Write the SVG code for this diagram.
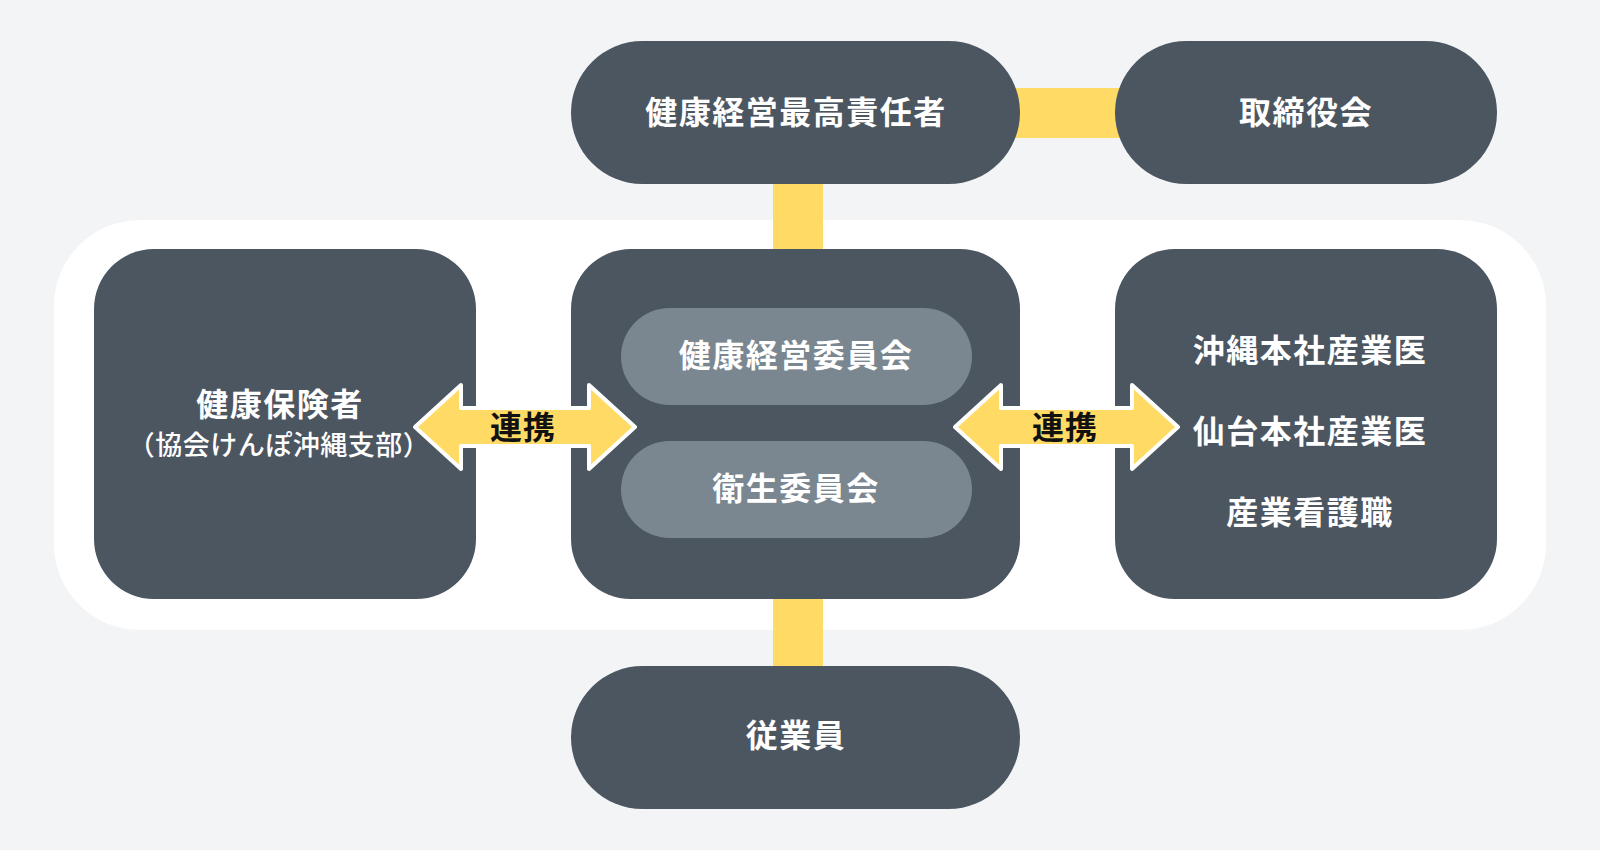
<svg xmlns="http://www.w3.org/2000/svg" width="1600" height="850" viewBox="0 0 1600 850">
  <style>
    .node { fill: #4c5661; }
    .pill { fill: #7a8690; }
    .conn { fill: #ffdb66; }
    .arrow { fill: #ffdb66; stroke: #ffffff; stroke-width: 4; stroke-linejoin: round; }
    .t { font-family: "Noto Sans CJK JP", "Noto Sans", sans-serif; font-weight: 700; fill: #ffffff; font-size: 32px; text-anchor: middle; dominant-baseline: central; letter-spacing: 1.5px; }
    .sub { font-size: 27px; font-weight: 500; letter-spacing: 0.5px; }
    .lbl { font-family: "Noto Sans CJK JP", "Noto Sans", sans-serif; font-weight: 700; fill: #111111; font-size: 32px; text-anchor: middle; dominant-baseline: central; letter-spacing: 1px; }
  </style>
  <rect width="1600" height="850" fill="#f3f4f6"/>
  <rect x="54" y="220" width="1492" height="410" rx="86" ry="86" fill="#ffffff"/>

  <g id="connectors">
    <rect class="conn" x="1010" y="88" width="115" height="50"/>
    <rect class="conn" x="773" y="175" width="50" height="85"/>
    <rect class="conn" x="773" y="590" width="50" height="85"/>
  </g>

  <g id="node-ceo">
    <rect class="node" x="571" y="41" width="449" height="143" rx="71.5" ry="71.5"/>
    <text class="t" x="796" y="110">健康経営最高責任者</text>
  </g>
  <g id="node-board">
    <rect class="node" x="1115" y="41" width="382" height="143" rx="71.5" ry="71.5"/>
    <text class="t" x="1306" y="110">取締役会</text>
  </g>
  <g id="node-insurer">
    <rect class="node" x="94" y="249" width="382" height="350" rx="60" ry="60"/>
    <text class="t" x="280" y="402">健康保険者</text>
    <text class="t sub" x="279" y="443">（協会けんぽ沖縄支部）</text>
  </g>
  <g id="node-committee">
    <rect class="node" x="571" y="249" width="449" height="350" rx="60" ry="60"/>
    <g id="node-health-committee">
      <rect class="pill" x="621" y="308" width="351" height="97" rx="48.5" ry="48.5"/>
      <text class="t" x="796" y="353">健康経営委員会</text>
    </g>
    <g id="node-hygiene-committee">
      <rect class="pill" x="621" y="441" width="351" height="97" rx="48.5" ry="48.5"/>
      <text class="t" x="796" y="486">衛生委員会</text>
    </g>
  </g>
  <g id="node-medical">
    <rect class="node" x="1115" y="249" width="382" height="350" rx="60" ry="60"/>
    <text class="t" x="1310" y="348">沖縄本社産業医</text>
    <text class="t" x="1310" y="429">仙台本社産業医</text>
    <text class="t" x="1310" y="510">産業看護職</text>
  </g>
  <g id="node-employees">
    <rect class="node" x="571" y="666" width="449" height="143" rx="71.5" ry="71.5"/>
    <text class="t" x="796" y="733">従業員</text>
  </g>

  <g id="link-left">
    <polygon class="arrow" points="415,427 461,385 461,408 589,408 589,385 635,427 589,469 589,446 461,446 461,469"/>
    <text class="lbl" x="523" y="425">連携</text>
  </g>
  <g id="link-right">
    <polygon class="arrow" points="955,427 1001,385 1001,408 1132,408 1132,385 1178,427 1132,469 1132,446 1001,446 1001,469"/>
    <text class="lbl" x="1065" y="425">連携</text>
  </g>
</svg>
